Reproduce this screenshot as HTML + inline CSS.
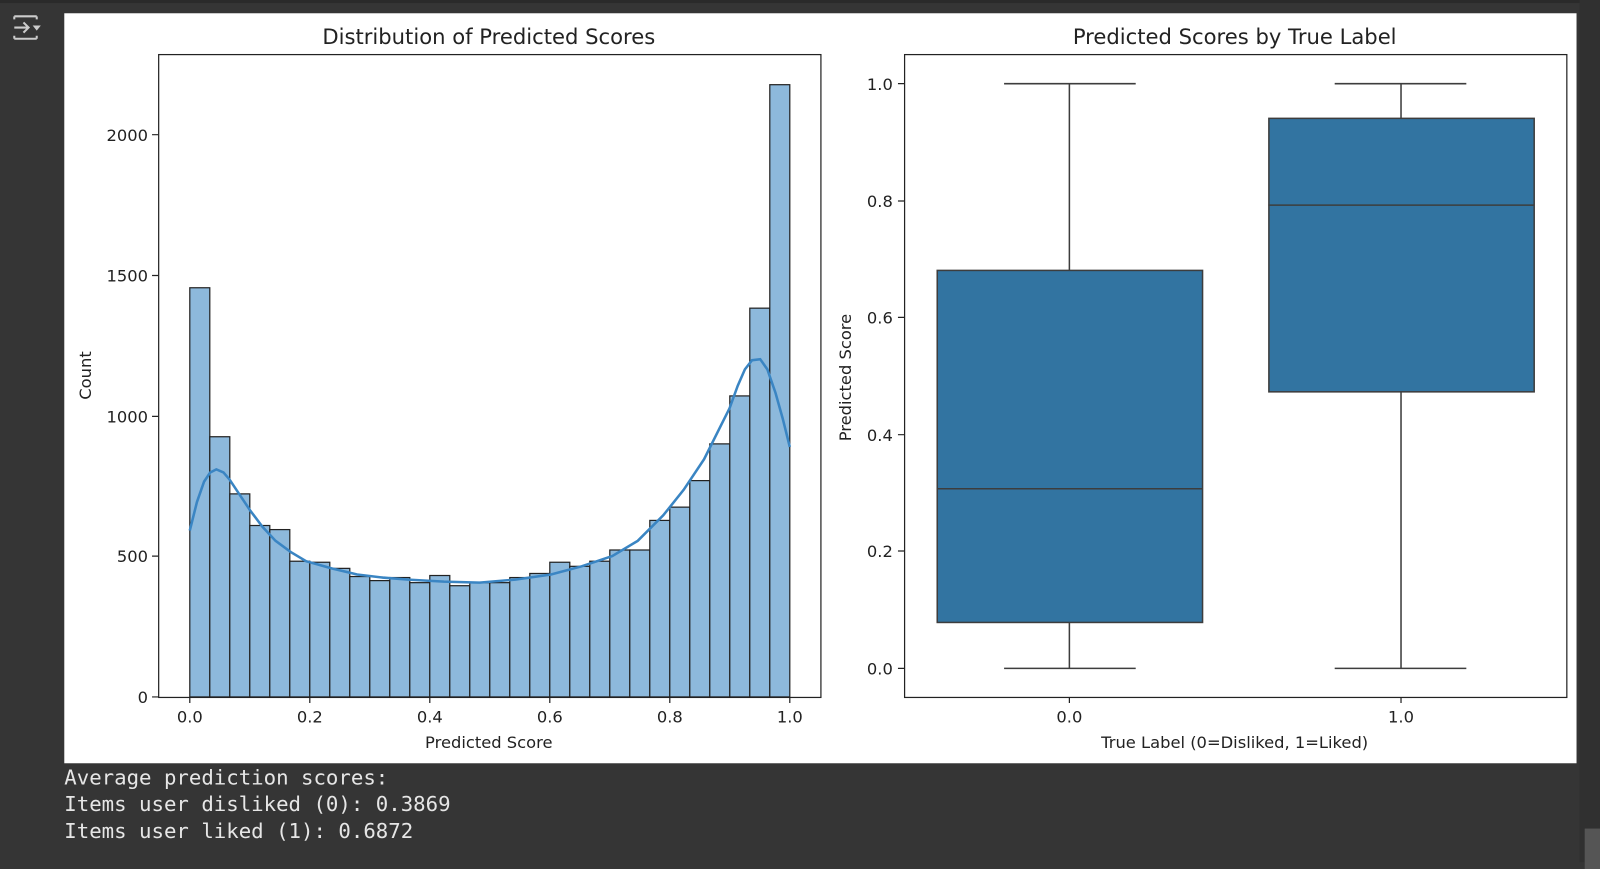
<!DOCTYPE html><html><head><style>
body{margin:0;width:1600px;height:862px;background:#353535;overflow:hidden}
#wrap{position:absolute;left:0;top:0;width:1568px;height:845px;transform:scale(1.020408);transform-origin:0 0;font-family:"DejaVu Sans","Liberation Sans",sans-serif}
#panel{position:absolute;left:63px;top:13px;width:1482px;height:735px;background:#fff}
#out{position:absolute;left:63px;top:749px;color:#e6e6e6;font:20.3px/26px "DejaVu Sans Mono","Liberation Mono",monospace;white-space:pre}
</style></head><body><div id="wrap">
<div style="position:absolute;left:0;top:0;width:1568px;height:3px;background:#2a2a2a"></div>
<div style="position:absolute;left:1548px;top:0;width:20px;height:845px;background:#303030"></div>
<div style="position:absolute;left:1553px;top:812px;width:15px;height:40px;background:#555"></div>
<svg style="position:absolute;left:10px;top:12px" width="34" height="30"><g stroke="#ccc" stroke-width="2" fill="none"><path d="M4 4h22M4 26h22M4 4v3M26 4v3M4 26v-3M26 26v-3M4 15h14M13 10l5 5-5 5"/></g><path d="M22 13h8l-4 5z" fill="#ccc"/></svg>
<div id="panel"></div>
<svg style="position:absolute;left:0;top:0" width="1568" height="845" font-family="DejaVu Sans, Liberation Sans, sans-serif" font-size="16" fill="#222">
<text x="479" y="43" text-anchor="middle" font-size="20.7">Distribution of Predicted Scores</text>
<text x="1210" y="43" text-anchor="middle" font-size="20.7">Predicted Scores by True Label</text>
<g id="bars" fill="#8db9dc" stroke="#222" stroke-width="1.2"></g>
<polyline fill="none" stroke="#3a85c3" stroke-width="2.5" points="186,520 193,492 200,472 206,463 212,460 219,463 225,470 235,485 245,500 257,516 270,530 285,541 300,550 325,557 350,563 375,566 400,568 435,570 470,571 505,568 540,563 570,555 600,545 625,530 650,505 670,480 690,450 705,420 715,400 723,378 730,362 737,353 745,352 752,362 760,385 767,410 774,438"/>
<rect x="155.5" y="53.5" width="649" height="630" fill="none" stroke="#222" stroke-width="1.2"/>
<g stroke="#222" stroke-width="1.2"><path d="M149 683h6M149 545h6M149 408h6M149 270h6M149 132h6M186 683v6M303.6 683v6M421.2 683v6M538.8 683v6M656.4 683v6M774 683v6"/></g>
<g text-anchor="end"><text x="145" y="689">0</text><text x="145" y="551">500</text><text x="145" y="414">1000</text><text x="145" y="276">1500</text><text x="145" y="138">2000</text></g>
<g text-anchor="middle"><text x="186" y="708">0.0</text><text x="303.6" y="708">0.2</text><text x="421.2" y="708">0.4</text><text x="538.8" y="708">0.6</text><text x="656.4" y="708">0.8</text><text x="774" y="708">1.0</text>
<text x="479" y="733">Predicted Score</text><text transform="translate(89,368) rotate(-90)">Count</text></g>
<g stroke="#3d3d3d" stroke-width="1.5" fill="#3274a1">
<path d="M1048 82v183M1048 610v45M984 82h129M984 655h129" fill="none"/>
<rect x="918.5" y="265" width="260" height="345"/><path d="M918 479h260"/>
<path d="M1373 82v34M1373 384v271M1308 82h129M1308 655h129" fill="none"/>
<rect x="1243.5" y="116" width="260" height="268"/><path d="M1243 201h260"/>
</g>
<rect x="886.5" y="53.5" width="649" height="630" fill="none" stroke="#222" stroke-width="1.2"/>
<g stroke="#222" stroke-width="1.2"><path d="M880 655h6M880 540h6M880 426h6M880 311h6M880 197h6M880 82h6M1048 683v6M1373 683v6"/></g>
<g text-anchor="end"><text x="875" y="661">0.0</text><text x="875" y="546">0.2</text><text x="875" y="432">0.4</text><text x="875" y="317">0.6</text><text x="875" y="203">0.8</text><text x="875" y="88">1.0</text></g>
<g text-anchor="middle"><text x="1048" y="708">0.0</text><text x="1373" y="708">1.0</text><text x="1210" y="733">True Label (0=Disliked, 1=Liked)</text><text transform="translate(834,370) rotate(-90)">Predicted Score</text></g>
</svg>
<div id="out">Average prediction scores:
Items user disliked (0): 0.3869
Items user liked (1): 0.6872</div>
</div>
<script>
var t=[282,428,484,515,519,550,551,557,565,569,566,571,564,574,571,571,566,562,551,555,550,539,539,510,497,471,435,388,302,83],g=document.getElementById('bars'),s='';
t.forEach(function(y,i){var x=186+i*19.6;s+='<rect x="'+x+'" y="'+y+'" width="19.6" height="'+(683-y)+'"/>';});g.innerHTML=s;
</script>
</body></html>
